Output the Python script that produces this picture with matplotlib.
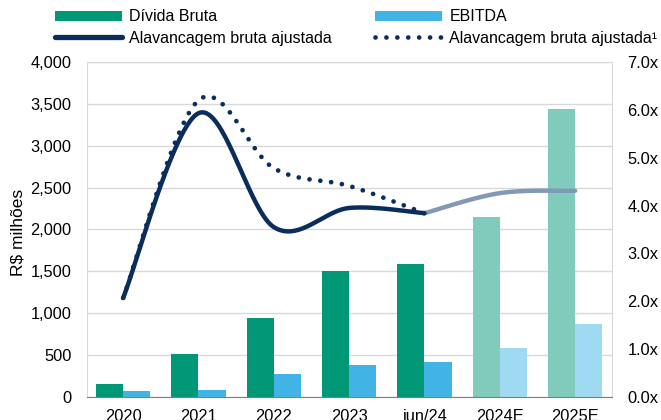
#!/usr/bin/env python3
"""
Dívida Bruta, EBITDA e alavancagem (barras + linhas suavizadas em eixo secundário)
"""

import numpy as np
import matplotlib.pyplot as plt
from matplotlib.patches import Patch
from matplotlib.lines import Line2D
from matplotlib.ticker import FuncFormatter

plt.rcParams['font.family'] = ['Liberation Sans', 'DejaVu Sans']
plt.rcParams['font.size'] = 11.5

categories = ['2020', '2021', '2022', '2023', 'jun/24', '2024E', '2025E']
divida = [155, 513, 943, 1504, 1584, 2149, 3439]
ebitda = [72, 85, 275, 380, 414, 589, 872]
forecast = [False, False, False, False, False, True, True]

alav = [2.07, 5.93, 3.55, 3.95, 3.84]            # 2020 .. jun/24
alav_proj = [3.84, 4.26, 4.31]                   # jun/24 .. 2025E
alav_ajust = [2.07, 6.20, 4.78, 4.41, 3.84]      # 2020 .. jun/24

GREEN = '#009877'
GREEN_L = '#80CBBB'
BLUE = '#41B4E5'
BLUE_L = '#A0DAF2'
NAVY = '#0A2D5C'
NAVY_L = '#8299B3'

DOTS = (0, (0.01, 2.3))


def smooth(xs, ys, n=40):
    # Bezier suavizado estilo Excel (Catmull-Rom)
    xs = np.asarray(xs, float)
    ys = np.asarray(ys, float)
    px = np.concatenate([[xs[0]], xs, [xs[-1]]])
    py = np.concatenate([[ys[0]], ys, [ys[-1]]])
    out_x, out_y = [], []
    t = np.linspace(0, 1, n)
    for i in range(1, len(px) - 2):
        p0 = np.array([px[i], py[i]])
        p3 = np.array([px[i + 1], py[i + 1]])
        p1 = p0 + (np.array([px[i + 1], py[i + 1]]) - np.array([px[i - 1], py[i - 1]])) / 6
        p2 = p3 - (np.array([px[i + 2], py[i + 2]]) - np.array([px[i], py[i]])) / 6
        b = ((1 - t) ** 3)[:, None] * p0 + (3 * (1 - t) ** 2 * t)[:, None] * p1 \
            + (3 * (1 - t) * t ** 2)[:, None] * p2 + (t ** 3)[:, None] * p3
        out_x.extend(b[:, 0])
        out_y.extend(b[:, 1])
    return np.array(out_x), np.array(out_y)


fig = plt.figure(figsize=(6.61, 4.20), dpi=100)
ax1 = fig.add_axes([0.1316, 0.0548, 0.7944, 0.7976])

x = np.arange(len(categories))
w = 0.36
ax1.bar(x - w / 2, divida, w, color=[GREEN_L if f else GREEN for f in forecast], zorder=2)
ax1.bar(x + w / 2, ebitda, w, color=[BLUE_L if f else BLUE for f in forecast], zorder=2)

ax1.set_xlim(-0.48, 6.49)
ax1.set_ylim(0, 4000)
ax1.set_yticks(np.arange(0, 4001, 500))
ax1.yaxis.set_major_formatter(FuncFormatter(lambda v, p: f'{v:,.0f}'))
ax1.set_xticks(x)
ax1.set_xticklabels(categories)
ax1.tick_params(length=0, labelsize=11.8, colors='#000000')
ax1.tick_params(axis='y', pad=11)
ax1.tick_params(axis='x', pad=9)
ax1.grid(axis='y', color='#D9D9D9', linewidth=1, zorder=0)
ax1.set_axisbelow(True)
for s in ['left', 'top', 'right']:
    ax1.spines[s].set_color('#D9D9D9')
ax1.spines['bottom'].set_color('#7F7F7F')
ax1.set_ylabel('R$ milhões', fontsize=12.5)
ax1.yaxis.set_label_coords(-0.118, 0.49)

ax2 = ax1.twinx()
ax2.set_ylim(0, 7)
ax2.set_yticks(np.arange(0, 7.1, 1))
ax2.yaxis.set_major_formatter(FuncFormatter(lambda v, p: f'{v:.1f}x'))
ax2.tick_params(length=0, labelsize=11.8, pad=11)
for s in ax2.spines.values():
    s.set_visible(False)

sx, sy = smooth(x[:5], alav_ajust)
ax2.plot(sx, sy, color=NAVY, linewidth=3.4, linestyle=DOTS,
         dash_capstyle='round', zorder=3)
sx, sy = smooth(x[4:], alav_proj)
ax2.plot(sx, sy, color=NAVY_L, linewidth=3.2, solid_capstyle='round', zorder=3)
sx, sy = smooth(x[:5], alav)
ax2.plot(sx, sy, color=NAVY, linewidth=3.2, solid_capstyle='round', zorder=4)

handles = [
    Patch(facecolor=GREEN, label='Dívida Bruta'),
    Line2D([0], [0], color=NAVY, linewidth=3.8, solid_capstyle='round',
           label='Alavancagem bruta ajustada'),
    Patch(facecolor=BLUE, label='EBITDA'),
    Line2D([0], [0], color=NAVY, linewidth=3.4, linestyle=DOTS,
           dash_capstyle='round', label='Alavancagem bruta ajustada¹'),
]
fig.legend(handles=handles, ncol=2, loc='upper left', bbox_to_anchor=(0.083, 0.978),
           frameon=False, fontsize=11.5, handlelength=4.2, handleheight=0.6,
           handletextpad=0.45, columnspacing=2.7, labelspacing=0.4, borderpad=0,
           borderaxespad=0)

fig.savefig('out.png', dpi=100)
